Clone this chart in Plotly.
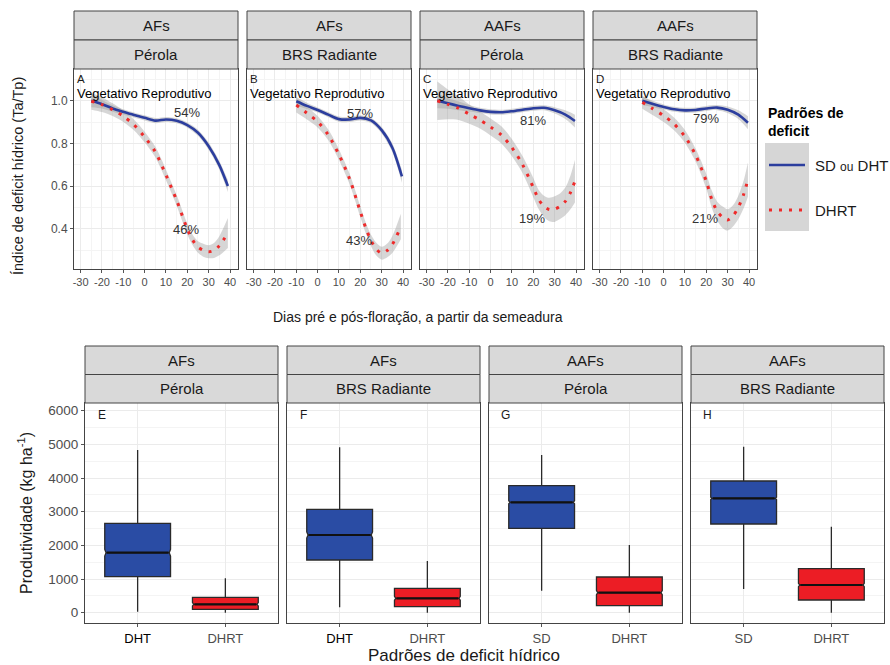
import plotly.graph_objects as go

W, H = 890, 665

# ---------------- Data: top panels (smoothed Ta/Tp) ----------------
env_top = ["AFs", "AFs", "AAFs", "AAFs"]
cult_top = ["Pérola", "BRS Radiante", "Pérola", "BRS Radiante"]
letters_top = ["A", "B", "C", "D"]
top_ticks = [-30, -20, -10, 0, 10, 20, 30, 40]
top_tick_text = ["-30", "-20", "-10", "0", "10", "20", "30", "40"]

A_sd_x = [-25, -20, -15, -10, -5, 0, 5, 10, 15, 20, 25, 30, 35, 39]
A_sd_y = [1.0, 0.984, 0.964, 0.948, 0.933, 0.92, 0.907, 0.912, 0.906, 0.886, 0.85, 0.787, 0.698, 0.60]
A_sd_se = [0.03, 0.02, 0.015, 0.012, 0.012, 0.012, 0.012, 0.012, 0.012, 0.012, 0.014, 0.017, 0.02, 0.028]
A_dh_x = [-25, -20, -15, -10, -5, 0, 5, 10, 15, 20, 22.5, 25, 27.5, 30, 32.5, 35, 39]
A_dh_y = [0.998, 0.982, 0.958, 0.928, 0.887, 0.83, 0.76, 0.652, 0.533, 0.398, 0.347, 0.314, 0.299, 0.292, 0.298, 0.32, 0.38]
A_dh_se = [0.04, 0.035, 0.03, 0.027, 0.025, 0.025, 0.025, 0.025, 0.025, 0.025, 0.025, 0.027, 0.03, 0.03, 0.035, 0.045, 0.07]

B_sd_x = [-10, -5, 0, 5, 10, 15, 20, 25, 30, 35, 39.5]
B_sd_y = [0.998, 0.976, 0.957, 0.935, 0.914, 0.912, 0.92, 0.908, 0.862, 0.78, 0.645]
B_sd_se = [0.02, 0.015, 0.012, 0.012, 0.012, 0.012, 0.012, 0.012, 0.015, 0.02, 0.03]
B_dh_x = [-10, -5, 0, 5, 10, 15, 20, 22.5, 25, 27.5, 30, 32.5, 35, 39]
B_dh_y = [0.98, 0.942, 0.902, 0.84, 0.747, 0.633, 0.48, 0.405, 0.345, 0.304, 0.285, 0.297, 0.326, 0.41]
B_dh_se = [0.035, 0.03, 0.027, 0.025, 0.025, 0.025, 0.025, 0.025, 0.027, 0.03, 0.03, 0.032, 0.04, 0.06]

C_sd_x = [-25, -20, -15, -10, -5, 0, 5, 10, 15, 20, 25, 30, 35, 39.5]
C_sd_y = [1.0, 0.988, 0.976, 0.965, 0.955, 0.948, 0.946, 0.951, 0.958, 0.965, 0.967, 0.955, 0.935, 0.905]
C_sd_se = [0.035, 0.025, 0.02, 0.015, 0.012, 0.012, 0.012, 0.012, 0.012, 0.012, 0.012, 0.015, 0.02, 0.03]
C_dh_x = [-25, -20, -15, -10, -5, 0, 5, 10, 15, 20, 22.5, 25, 27.5, 30, 32.5, 35, 37.5, 39.5]
C_dh_y = [1.0, 0.983, 0.965, 0.937, 0.91, 0.877, 0.84, 0.78, 0.70, 0.593, 0.537, 0.505, 0.49, 0.492, 0.505, 0.528, 0.572, 0.623]
C_dh_se = [0.09, 0.07, 0.055, 0.045, 0.04, 0.04, 0.04, 0.04, 0.04, 0.045, 0.045, 0.05, 0.055, 0.06, 0.06, 0.065, 0.08, 0.1]

D_sd_x = [-10, -5, 0, 5, 10, 15, 20, 25, 30, 35, 39.5]
D_sd_y = [1.0, 0.985, 0.971, 0.96, 0.955, 0.957, 0.964, 0.968, 0.958, 0.935, 0.897]
D_sd_se = [0.02, 0.015, 0.012, 0.012, 0.012, 0.012, 0.012, 0.012, 0.015, 0.02, 0.03]
D_dh_x = [-10, -5, 0, 5, 10, 15, 20, 22.5, 25, 27.5, 30, 32.5, 35, 37.5, 39.5]
D_dh_y = [0.993, 0.962, 0.93, 0.89, 0.832, 0.745, 0.622, 0.54, 0.483, 0.455, 0.441, 0.46, 0.50, 0.561, 0.63]
D_dh_se = [0.03, 0.03, 0.03, 0.03, 0.03, 0.03, 0.035, 0.04, 0.045, 0.05, 0.05, 0.05, 0.055, 0.065, 0.08]

pct_sd = ["54%", "57%", "81%", "79%"]
pct_dh = ["46%", "43%", "19%", "21%"]

# ---------------- Data: bottom panels (yield boxplots) ----------------
env_bot = ["AFs", "AFs", "AAFs", "AAFs"]
cult_bot = ["Pérola", "BRS Radiante", "Pérola", "BRS Radiante"]
letters_bot = ["E", "F", "G", "H"]
cats_bot = [["DHT", "DHRT"], ["DHT", "DHRT"], ["SD", "DHRT"], ["SD", "DHRT"]]
box_lo = [[30, 0], [160, 0], [653, 0], [704, 0]]
box_q1 = [[1069, 100], [1565, 178], [2507, 208], [2635, 377]]
box_med = [[1782, 250], [2308, 428], [3279, 594], [3398, 823]]
box_q3 = [[2655, 457], [3071, 725], [3772, 1060], [3912, 1307]]
box_hi = [[4833, 1020], [4913, 1535], [4684, 2011], [4931, 2555]]
box_notch = [[100, 50], [90, 60], [45, 60], [35, 50]]

# ---------------- Styling / layout ----------------
BLUE = "#2C3E9E"
RED = "#EE2A2A"
RIB = "rgba(153,153,153,0.4)"
BOX_FILL = ["#2A4CA4", "#EC1D25"]
FONT = "Liberation Sans, Arial, sans-serif"
BOX_W = 0.75


def px_x(v):
    return v / W


def px_y(v):
    return 1 - v / H


top_xdom = [(74, 238), (247, 411), (420, 584), (593, 757)]
top_ydom = (69, 269)
bot_xdom = [(85, 278), (287, 480), (489, 682), (691, 884)]
bot_ydom = (403, 623)

top_series = [
    (A_sd_x, A_sd_y, A_sd_se, A_dh_x, A_dh_y, A_dh_se),
    (B_sd_x, B_sd_y, B_sd_se, B_dh_x, B_dh_y, B_dh_se),
    (C_sd_x, C_sd_y, C_sd_se, C_dh_x, C_dh_y, C_dh_se),
    (D_sd_x, D_sd_y, D_sd_se, D_dh_x, D_dh_y, D_dh_se),
]

fig = go.Figure()
layout = dict(
    width=W, height=H, margin=dict(l=0, r=0, t=0, b=0),
    paper_bgcolor="white", plot_bgcolor="white",
    font=dict(family=FONT, color="#333333"),
    showlegend=False,
)
shapes = []
annotations = []

axis_common = dict(
    showline=True, mirror=True, linecolor="#444444", linewidth=1,
    showgrid=True, gridcolor="#EBEBEB", gridwidth=1, zeroline=False,
    ticks="outside", ticklen=3, tickcolor="#555555",
)

# ----- top panels -----
for i in range(4):
    n = i + 1
    xa = "x" if n == 1 else f"x{n}"
    ya = "y" if n == 1 else f"y{n}"
    sx, sy, sse, dx, dy, dse = top_series[i]
    for xs, ys, se in ((sx, sy, sse), (dx, dy, dse)):
        fig.add_trace(go.Scatter(
            x=xs, y=[a - b for a, b in zip(ys, se)], xaxis=xa, yaxis=ya,
            mode="lines", line=dict(width=0, shape="spline", smoothing=0.8),
            hoverinfo="skip"))
        fig.add_trace(go.Scatter(
            x=xs, y=[a + b for a, b in zip(ys, se)], xaxis=xa, yaxis=ya,
            mode="lines", line=dict(width=0, shape="spline", smoothing=0.8),
            fill="tonexty", fillcolor=RIB, hoverinfo="skip"))
    fig.add_trace(go.Scatter(
        x=sx, y=sy, xaxis=xa, yaxis=ya, mode="lines",
        line=dict(color=BLUE, width=2.6, shape="spline", smoothing=0.8)))
    fig.add_trace(go.Scatter(
        x=dx, y=dy, xaxis=xa, yaxis=ya, mode="lines",
        line=dict(color=RED, width=3, dash="3px,7px", shape="spline", smoothing=0.8)))

    x0, x1 = top_xdom[i]
    layout[f"xaxis{n}" if n > 1 else "xaxis"] = dict(
        axis_common, domain=[px_x(x0), px_x(x1)], anchor=ya,
        range=[-33.1, 43.75], tickvals=top_ticks, ticktext=top_tick_text,
        tickfont=dict(size=11, color="#4D4D4D"),
        minor=dict(tickvals=[-25, -15, -5, 5, 15, 25, 35], showgrid=True, gridcolor="#F4F4F4", ticks=""),
    )
    yax = dict(
        axis_common, domain=[px_y(top_ydom[1]), px_y(top_ydom[0])], anchor=xa,
        range=[0.211, 1.149], tickvals=[0.4, 0.6, 0.8, 1.0],
        ticktext=["0.4", "0.6", "0.8", "1.0"],
        tickfont=dict(size=12, color="#4D4D4D"),
        minor=dict(tickvals=[0.3, 0.5, 0.7, 0.9, 1.1], showgrid=True, gridcolor="#F4F4F4", ticks=""),
    )
    if n > 1:
        yax.update(showticklabels=False, ticks="")
    layout[f"yaxis{n}" if n > 1 else "yaxis"] = yax

    # strips
    for (s0, s1), txt in (((11, 40), env_top[i]), ((40, 69), cult_top[i])):
        shapes.append(dict(type="rect", xref="paper", yref="paper",
                           x0=px_x(x0), x1=px_x(x1), y0=px_y(s1), y1=px_y(s0),
                           fillcolor="#D9D9D9", line=dict(color="#444444", width=1)))
        annotations.append(dict(xref="paper", yref="paper", x=px_x((x0 + x1) / 2),
                                y=px_y((s0 + s1) / 2), text=txt, showarrow=False,
                                font=dict(size=15, color="#1A1A1A"),
                                xanchor="center", yanchor="middle"))
    # texts inside panels
    annotations.append(dict(xref=xa, yref=ya, x=-30, y=1.103, text=letters_top[i],
                            showarrow=False, font=dict(size=11.5, color="#1A1A1A")))
    annotations.append(dict(xref="paper", yref=ya, x=px_x(x0 + 1), y=1.032,
                            text="Vegetativo Reprodutivo",
                            showarrow=False, xanchor="left",
                            font=dict(size=13, color="#000000")))
    sd_y_lab = [0.944, 0.94, 0.909, 0.917][i]
    dh_y_lab = [0.397, 0.347, 0.448, 0.448][i]
    annotations.append(dict(xref=xa, yref=ya, x=20, y=sd_y_lab, text=pct_sd[i],
                            showarrow=False, font=dict(size=13, color="#333333")))
    annotations.append(dict(xref=xa, yref=ya, x=19.5, y=dh_y_lab, text=pct_dh[i],
                            showarrow=False, font=dict(size=13, color="#333333")))

# ----- bottom panels -----
for i in range(4):
    n = i + 5
    xa, ya = f"x{n}", f"y{n}"
    for j in range(2):
        fig.add_trace(go.Box(
            x=[cats_bot[i][j]], q1=[box_q1[i][j]], median=[box_med[i][j]],
            q3=[box_q3[i][j]], lowerfence=[box_lo[i][j]], upperfence=[box_hi[i][j]],
            notched=True, notchspan=[box_notch[i][j]], notchwidth=0.02,
            width=BOX_W, whiskerwidth=0, xaxis=xa, yaxis=ya,
            fillcolor=BOX_FILL[j], line=dict(color="#2A2A2A", width=1.3),
            boxpoints=False, hoverinfo="skip"))
        # thick black median bar (ggplot style), spanning the notched width
        shapes.append(dict(type="line", xref=xa, yref=ya,
                           x0=j - BOX_W * 0.47, x1=j + BOX_W * 0.47,
                           y0=box_med[i][j], y1=box_med[i][j],
                           line=dict(color="#111111", width=2.2)))
    x0, x1 = bot_xdom[i]
    tick_cols = ["#000000" if cats_bot[i][0] == "DHT" else "#4D4D4D", "#4D4D4D"]
    layout[f"xaxis{n}"] = dict(
        axis_common, domain=[px_x(x0), px_x(x1)], anchor=ya, type="category",
        categoryorder="array", categoryarray=cats_bot[i], range=[-0.6, 1.6],
        tickvals=cats_bot[i],
        ticktext=[f"<span style='color:{c}'>{t}</span>" for t, c in zip(cats_bot[i], tick_cols)],
        tickfont=dict(size=13, color="#4D4D4D"),
    )
    yax = dict(
        axis_common, domain=[px_y(bot_ydom[1]), px_y(bot_ydom[0])], anchor=xa,
        range=[-306, 6229], tickvals=[0, 1000, 2000, 3000, 4000, 5000, 6000],
        tickfont=dict(size=13.5, color="#4D4D4D"),
        minor=dict(tickvals=[500, 1500, 2500, 3500, 4500, 5500], showgrid=True, gridcolor="#F4F4F4", ticks=""),
    )
    if i > 0:
        yax.update(showticklabels=False, ticks="")
    layout[f"yaxis{n}"] = yax

    for (s0, s1), txt in (((346, 374.5), env_bot[i]), ((374.5, 403), cult_bot[i])):
        shapes.append(dict(type="rect", xref="paper", yref="paper",
                           x0=px_x(x0), x1=px_x(x1), y0=px_y(s1), y1=px_y(s0),
                           fillcolor="#D9D9D9", line=dict(color="#444444", width=1)))
        annotations.append(dict(xref="paper", yref="paper", x=px_x((x0 + x1) / 2),
                                y=px_y((s0 + s1) / 2), text=txt, showarrow=False,
                                font=dict(size=15, color="#1A1A1A"),
                                xanchor="center", yanchor="middle"))
    annotations.append(dict(xref=xa, yref=ya, x=-0.41, y=5870, text=letters_bot[i],
                            showarrow=False, font=dict(size=12, color="#1A1A1A")))

# ----- axis titles -----
annotations += [
    dict(xref="paper", yref="paper", x=px_x(418), y=px_y(317),
         text="Dias pré e pós-floração, a partir da semeadura", showarrow=False,
         font=dict(size=14, color="#1A1A1A"), xanchor="center", yanchor="middle"),
    dict(xref="paper", yref="paper", x=px_x(18), y=px_y(176),
         text="Índice de deficit hídrico (Ta/Tp)", showarrow=False, textangle=-90,
         font=dict(size=14.5, color="#1A1A1A"), xanchor="center", yanchor="middle"),
    dict(xref="paper", yref="paper", x=px_x(464), y=px_y(655),
         text="Padrões de deficit hídrico", showarrow=False,
         font=dict(size=17, color="#1A1A1A"), xanchor="center", yanchor="middle"),
    dict(xref="paper", yref="paper", x=px_x(25), y=px_y(513),
         text="Produtividade (kg ha<sup>-1</sup>)", showarrow=False, textangle=-90,
         font=dict(size=16, color="#1A1A1A"), xanchor="center", yanchor="middle"),
]

# ----- manual legend -----
shapes.append(dict(type="rect", xref="paper", yref="paper",
                   x0=px_x(765), x1=px_x(809), y0=px_y(231), y1=px_y(143),
                   fillcolor="#D6D6D6", line=dict(width=0)))
shapes.append(dict(type="line", xref="paper", yref="paper",
                   x0=px_x(769), x1=px_x(805), y0=px_y(165), y1=px_y(165),
                   line=dict(color=BLUE, width=2.6)))
shapes.append(dict(type="line", xref="paper", yref="paper",
                   x0=px_x(769), x1=px_x(805), y0=px_y(210), y1=px_y(210),
                   line=dict(color=RED, width=3, dash="3px,7px")))
annotations += [
    dict(xref="paper", yref="paper", x=px_x(766), y=px_y(122),
         text="<b>Padrões de<br>deficit</b>", showarrow=False, align="left",
         font=dict(size=14, color="#000000"), xanchor="left", yanchor="middle"),
    dict(xref="paper", yref="paper", x=px_x(813), y=px_y(165),
         text="SD <span style='font-size:12px'>ou</span> DHT", showarrow=False,
         font=dict(size=15, color="#1A1A1A"), xanchor="left", yanchor="middle"),
    dict(xref="paper", yref="paper", x=px_x(813), y=px_y(210),
         text="DHRT", showarrow=False,
         font=dict(size=15, color="#1A1A1A"), xanchor="left", yanchor="middle"),
]

layout["shapes"] = shapes
layout["annotations"] = annotations
fig.update_layout(**layout)
fig.write_html("out.html")
